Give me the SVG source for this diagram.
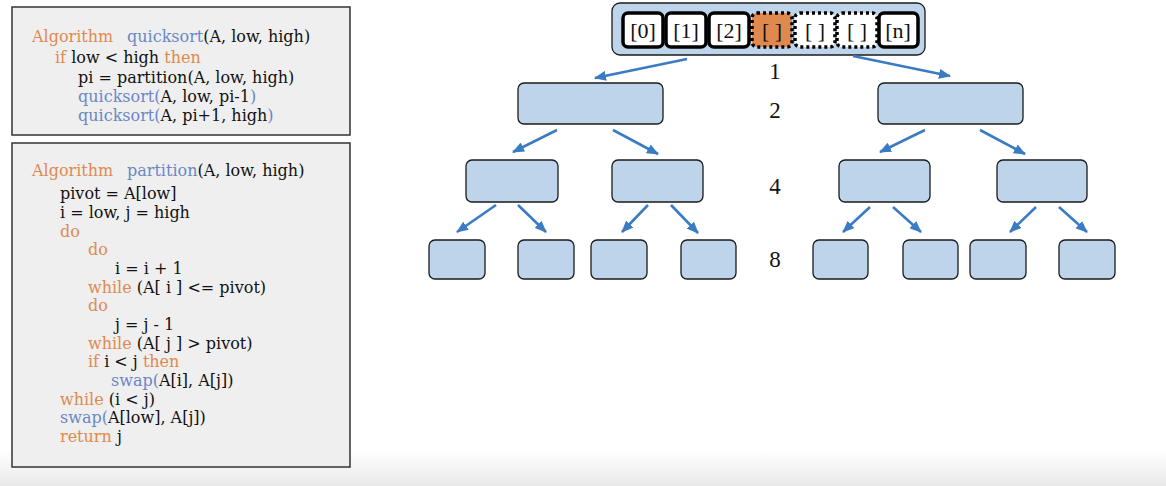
<svg xmlns="http://www.w3.org/2000/svg" width="1166" height="486" viewBox="0 0 1166 486">
<defs>
<linearGradient id="bg" x1="0" y1="0" x2="0" y2="1">
<stop offset="0" stop-color="#ffffff"/>
<stop offset="1" stop-color="#e9e9e9"/>
</linearGradient>
<marker id="ah" markerUnits="userSpaceOnUse" markerWidth="12" markerHeight="10" refX="11" refY="5" orient="auto">
<path d="M0,0 L12,5 L0,10 Z" fill="#3b7bc3"/>
</marker>
</defs>
<style>
.code{font-family:"DejaVu Serif","Liberation Serif",serif;font-size:16px;fill:#111}
.k{fill:#e0894f}
.f{fill:#6b87c6}
.panel{fill:#efefef;stroke:#333;stroke-width:1.5}
.node{fill:#bdd4eb;stroke:#1a1a1a;stroke-width:1.3}
.cell{fill:#fff;stroke:#000;stroke-width:3.5}
.dot{stroke-dasharray:3 3}
.ct{font-family:"Liberation Serif","DejaVu Serif",serif;font-size:22px;fill:#111;text-anchor:middle}
.lvl{font-family:"Liberation Serif","DejaVu Serif",serif;font-size:23px;fill:#111;text-anchor:middle}
.arr{stroke:#3b7bc3;stroke-width:2.6;fill:none;marker-end:url(#ah)}
</style>
<rect x="0" y="450" width="1166" height="36" fill="url(#bg)"/>
<g id="quicksort-panel">
<rect class="panel" x="12" y="7" width="338" height="128"/>
<text class="code" x="32" y="42"><tspan class="k">Algorithm</tspan><tspan class="f" x="127">quicksort</tspan>(A, low, high)</text>
<text class="code" x="55" y="63"><tspan class="k">if</tspan> low &lt; high <tspan class="k">then</tspan></text>
<text class="code" x="78" y="83">pi = partition(A, low, high)</text>
<text class="code" x="78" y="102"><tspan class="f">quicksort(</tspan>A, low, pi-1<tspan class="f">)</tspan></text>
<text class="code" x="78" y="121"><tspan class="f">quicksort(</tspan>A, pi+1, high<tspan class="f">)</tspan></text>
</g>
<g id="partition-panel">
<rect class="panel" x="12" y="143" width="338" height="324"/>
<text class="code" x="32" y="176"><tspan class="k">Algorithm</tspan><tspan class="f" x="127">partition</tspan>(A, low, high)</text>
<text class="code" x="60" y="199">pivot = A[low]</text>
<text class="code" x="60" y="218">i = low, j = high</text>
<text class="code k" x="60" y="237">do</text>
<text class="code k" x="88" y="255">do</text>
<text class="code" x="115" y="274">i = i + 1</text>
<text class="code" x="88" y="293"><tspan class="k">while</tspan> (A[ i ] &lt;= pivot)</text>
<text class="code k" x="88" y="311">do</text>
<text class="code" x="115" y="330">j = j - 1</text>
<text class="code" x="88" y="349"><tspan class="k">while</tspan> (A[ j ] &gt; pivot)</text>
<text class="code" x="88" y="367"><tspan class="k">if</tspan>  i &lt; j <tspan class="k">then</tspan></text>
<text class="code" x="111" y="386"><tspan class="f">swap(</tspan>A[i], A[j])</text>
<text class="code" x="60" y="405"><tspan class="k">while</tspan> (i &lt; j)</text>
<text class="code" x="60" y="423"><tspan class="f">swap(</tspan>A[low], A[j])</text>
<text class="code" x="60" y="442"><tspan class="k">return</tspan> j</text>
</g>
<g id="array">
<rect class="node" x="612" y="3" width="313" height="52" rx="8"/>
<rect class="cell" x="623" y="13" width="40" height="34" rx="5"/>
<rect class="cell" x="666" y="13" width="40" height="34" rx="5"/>
<rect class="cell" x="709" y="13" width="40" height="34" rx="5"/>
<rect class="cell dot" x="752" y="13" width="40" height="34" rx="5" style="fill:#e0894f"/>
<rect class="cell dot" x="795" y="13" width="40" height="34" rx="5"/>
<rect class="cell dot" x="837" y="13" width="40" height="34" rx="5"/>
<rect class="cell" x="879" y="13" width="39" height="34" rx="5"/>
<text class="ct" x="643" y="38">[0]</text>
<text class="ct" x="686" y="38">[1]</text>
<text class="ct" x="729" y="38">[2]</text>
<text class="ct" x="772" y="38">[ ]</text>
<text class="ct" x="815" y="38">[ ]</text>
<text class="ct" x="857" y="38">[ ]</text>
<text class="ct" x="898" y="38">[n]</text>
</g>
<g id="n2a"><rect class="node" x="518" y="83" width="145" height="41" rx="6"/></g>
<g id="n2b"><rect class="node" x="878" y="83" width="145" height="41" rx="6"/></g>
<g id="n3a"><rect class="node" x="466" y="160" width="92" height="42" rx="6"/></g>
<g id="n3b"><rect class="node" x="612" y="160" width="91" height="42" rx="6"/></g>
<g id="n3c"><rect class="node" x="839" y="160" width="91" height="42" rx="6"/></g>
<g id="n3d"><rect class="node" x="997" y="160" width="90" height="42" rx="6"/></g>
<g id="n4a"><rect class="node" x="429" y="240" width="56" height="39" rx="6"/></g>
<g id="n4b"><rect class="node" x="518" y="240" width="56" height="39" rx="6"/></g>
<g id="n4c"><rect class="node" x="591" y="240" width="56" height="39" rx="6"/></g>
<g id="n4d"><rect class="node" x="681" y="240" width="55" height="39" rx="6"/></g>
<g id="n4e"><rect class="node" x="813" y="240" width="55" height="39" rx="6"/></g>
<g id="n4f"><rect class="node" x="903" y="240" width="55" height="39" rx="6"/></g>
<g id="n4g"><rect class="node" x="970" y="240" width="56" height="39" rx="6"/></g>
<g id="n4h"><rect class="node" x="1059" y="240" width="56" height="39" rx="6"/></g>
<g id="levels">
<text class="lvl" x="775" y="79">1</text>
<text class="lvl" x="775" y="118">2</text>
<text class="lvl" x="775" y="194">4</text>
<text class="lvl" x="775" y="267">8</text>
</g>
<g id="connectors">
<line class="arr" x1="687" y1="59" x2="595" y2="78"/>
<line class="arr" x1="853" y1="56" x2="950" y2="76"/>
<line class="arr" x1="557" y1="130" x2="513" y2="152"/>
<line class="arr" x1="613" y1="130" x2="658" y2="154"/>
<line class="arr" x1="925" y1="130" x2="880" y2="152"/>
<line class="arr" x1="980" y1="130" x2="1025" y2="154"/>
<line class="arr" x1="496" y1="205" x2="457" y2="232"/>
<line class="arr" x1="518" y1="205" x2="546" y2="232"/>
<line class="arr" x1="648" y1="205" x2="622" y2="232"/>
<line class="arr" x1="671" y1="205" x2="698" y2="233"/>
<line class="arr" x1="870" y1="207" x2="843" y2="232"/>
<line class="arr" x1="893" y1="207" x2="921" y2="232"/>
<line class="arr" x1="1036" y1="207" x2="1010" y2="232"/>
<line class="arr" x1="1059" y1="207" x2="1087" y2="232"/>
</g>
</svg>
